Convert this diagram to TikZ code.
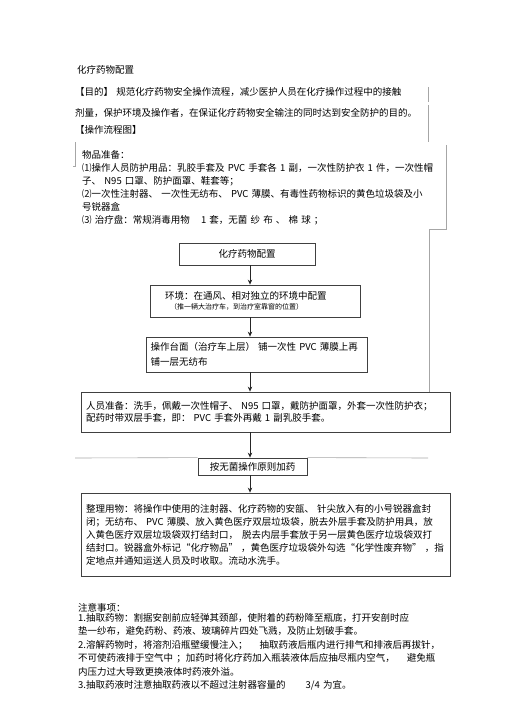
\documentclass[tikz,border=0pt]{standalone}
\usepackage{fontspec}
\setmainfont{Noto Sans CJK SC}
\usetikzlibrary{arrows.meta}

\begin{document}
\begin{tikzpicture}[x=1pt,y=-1pt,
    txt/.style={inner sep=0pt, anchor=base west, align=left, text width=390,
      font=\fontsize{9.5}{13}\selectfont},
    stepbox/.style={draw=black!75, line width=0.8pt, inner sep=0pt,
      font=\fontsize{9.5}{13}\selectfont},
    arr/.style={draw=black!85, line width=0.8pt, -{Stealth[length=5pt,width=4.5pt]}},
    frame/.style={draw=black!35, line width=0.6pt}
  ]
  \useasboundingbox (0,0) rectangle (505,714);

  % heading and purpose
  \node[txt] (title) at (77,73.5) {化疗药物配置};
  \node[txt] (aim) at (75,95.5) {【目的】 规范化疗药物安全操作流程，减少医护人员在化疗操作过程中的接触\\[8pt]
    剂量，保护环境及操作者，在保证化疗药物安全输注的同时达到安全防护的目的。};
  \node[txt] (flowhead) at (75,133.5) {【操作流程图】};

  % items to prepare
  \node[txt] (items) at (82,158.5) {物品准备：\\
    ⑴操作人员防护用品：乳胶手套及 PVC 手套各 1 副，一次性防护衣 1 件，一次性帽\\
    子、 N95 口罩、防护面罩、鞋套等；\\
    ⑵一次性注射器、 一次性无纺布、 PVC 薄膜、有毒性药物标识的黄色垃圾袋及小\\
    号锐器盒\\
    ⑶ 治疗盘：常规消毒用物\hspace{8pt} 1 套，无菌 纱 布 、 棉 球 ；};

  % flow chart
  \node[stepbox, minimum width=136, minimum height=22] (prep) at (247,254) {化疗药物配置};
  \node[stepbox, minimum width=210, minimum height=32, text width=180, align=left,
    font=\fontsize{9.5}{10}\selectfont] (env) at (255,301)
    {环境：在通风、相对独立的环境中配置\\
    \hspace{5pt}{\fontsize{7}{10}\selectfont （推一辆大治疗车，到治疗室靠窗的位置）}};
  \node[stepbox, minimum width=221, minimum height=35, text width=212, align=left,
    font=\fontsize{9.5}{15}\selectfont] (table) at (256.5,354.5)
    {操作台面（治疗车上层） 铺一次性 PVC 薄膜上再\\铺一层无纺布};
  \node[stepbox, minimum width=369, minimum height=40, text width=359, align=left,
    font=\fontsize{9.5}{12}\selectfont] (staff) at (265.5,412)
    {人员准备：洗手，佩戴一次性帽子、 N95 口罩，戴防护面罩，外套一次性防护衣；\\
    配药时带双层手套，即： PVC 手套外再戴 1 副乳胶手套。};
  \node[stepbox, minimum width=109, minimum height=17] (add) at (252.5,466.5) {按无菌操作原则加药};
  \node[stepbox, minimum width=369, minimum height=83, text width=359, align=left] (tidy) at (265.5,534.5)
    {整理用物：将操作中使用的注射器、化疗药物的安瓿、 针尖放入有的小号锐器盒封\\
    闭；无纺布、 PVC 薄膜、放入黄色医疗双层垃圾袋，脱去外层手套及防护用具，放\\
    入黄色医疗双层垃圾袋双打结封口，\hspace{4pt}脱去内层手套放于另一层黄色医疗垃圾袋双打\\
    结封口。锐器盒外标记“化疗物品” ，黄色医疗垃圾袋外勾选“化学性废弃物” ，指\\
    定地点并通知运送人员及时收取。流动水洗手。};

  \coordinate (col) at (250,0);
  \draw[arr] (prep.south -| col) -- (env.north -| col);
  \draw[arr] (env.south -| col) -- (table.north -| col);
  \draw[arr] (table.south -| col) -- (staff.north -| col);
  \draw[arr] (staff.south -| col) -- (add.north -| col);
  \draw[arr] (add.south -| col) -- (tidy.north -| col);

  % faint frame lines
  \coordinate (rim) at (429,229);
  \draw[frame] (428,87) -- (428,102) (428,105) -- (428,142);
  \draw[frame] (73,166) -- (75,166) -- (75,142);
  \draw[frame] (446,145) -- (446,229) -- (rim) -- (rim |- staff.north);
  \draw[frame] (75,458) -- (add.north west) (add.north east) -- (428,458);

  % notes
  \node[txt] (notehead) at (78,611.5) {注意事项：};
  \node[txt, font=\fontsize{9.5}{13.4}\selectfont] (notes) at (78,621.5)
    {1.抽取药物：割据安剖前应轻弹其颈部，使附着的药粉降至瓶底，打开安剖时应\\
    垫一纱布，避免药粉、药液、玻璃碎片四处飞溅，及防止划破手套。\\
    2.溶解药物时，将溶剂沿瓶壁缓慢注入；\hspace{12pt}抽取药液后瓶内进行排气和排液后再拔针，\\
    不可使药液排于空气中 ；加药时将化疗药加入瓶装液体后应抽尽瓶内空气，\hspace{12pt}避免瓶\\
    内压力过大导致更换液体时药液外溢。\\
    3.抽取药液时注意抽取药液以不超过注射器容量的\hspace{20pt}3/4 为宜。};
\end{tikzpicture}
\end{document}
